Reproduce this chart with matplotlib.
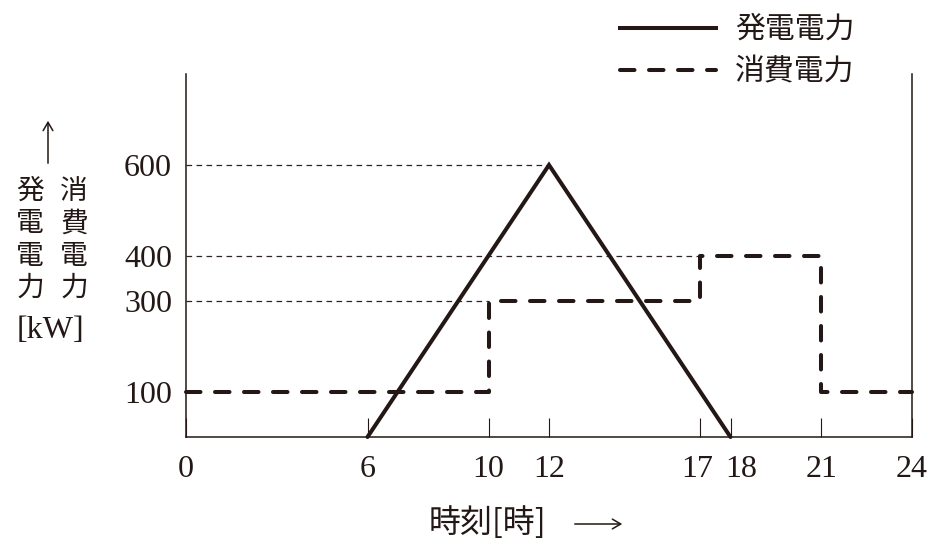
import matplotlib
matplotlib.use("Agg")
import matplotlib.pyplot as plt
import matplotlib.transforms as mtransforms
from matplotlib.lines import Line2D

# ---- data ----
gen_hours = [6, 12, 18]
gen_kw = [0, 600, 0]
use_hours = [0, 10, 10, 17, 17, 21, 21, 24]
use_kw = [100, 100, 300, 300, 400, 400, 100, 100]
x_ticks = [0, 6, 10, 12, 17, 18, 21, 24]
y_ticks = [100, 300, 400, 600]
ref_lines = [(600, 12), (400, 17), (300, 10)]  # (level, x end)

legend_labels = ["発電電力", "消費電力"]
ylabel_col1 = "発電電力"
ylabel_col2 = "消費電力"
ylabel_unit = "[kW]"
xlabel_text = "時刻[時]"

INK = "#231815"
JP = ["Noto Sans CJK JP", "DejaVu Sans"]
NUM = ["Liberation Serif", "DejaVu Serif"]

W, H = 939, 555
fig = plt.figure(figsize=(W / 100, H / 100), dpi=100)
ax = fig.add_axes([186 / W, 118 / H, 726 / W, 362.7 / H])
ax.set_xlim(0, 24)
ax.set_ylim(0, 800)

ax.spines["top"].set_visible(False)
for s in ["left", "right", "bottom"]:
    ax.spines[s].set_color(INK)
    ax.spines[s].set_linewidth(1.1)

# reference lines
for lvl, xe in ref_lines:
    ax.plot([0, xe], [lvl, lvl], color="#2e2522", lw=0.9, ls=(0, (4.5, 3.5)), zorder=1)

LW = 2.9
# generation
ax.plot(gen_hours, gen_kw, color=INK, lw=LW, solid_capstyle="round",
        solid_joinstyle="miter", zorder=3, clip_on=False)
# consumption
lc, = ax.plot(use_hours, use_kw, color=INK, lw=LW, zorder=3, clip_on=False)
lc.set_dash_capstyle("round")
lc.set_dashes([3.6, 3.6])

# ticks
ax.set_xticks(x_ticks)
ax.set_xticklabels([str(t) for t in x_ticks], color=INK, fontfamily=NUM, fontsize=23)
ax.tick_params(axis="x", direction="in", length=14, width=0.8, color=INK, pad=13)
nudge = {17: -3, 18: 11}
for t, v in zip(ax.get_xticklabels(), x_ticks):
    if v in nudge:
        t.set_transform(t.get_transform() + mtransforms.ScaledTranslation(
            nudge[v] / 100, 0, fig.dpi_scale_trans))
ax.set_yticks(y_ticks)
ax.set_yticklabels([str(t) for t in y_ticks], color=INK, fontfamily=NUM, fontsize=23)
ax.tick_params(axis="y", length=0, pad=10)

# legend
h2 = Line2D([], [], color=INK, lw=LW)
h2.set_dashes([3.6, 3.6]); h2.set_dash_capstyle("round")
handles = [Line2D([], [], color=INK, lw=LW), h2]
leg = fig.legend(handles, legend_labels, loc="upper left",
                 bbox_to_anchor=(620 / W, 1 - 14 / H), frameon=False,
                 prop={"family": JP, "size": 21.5}, handlelength=3.2, handletextpad=0.65,
                 labelspacing=0.4, borderpad=0, borderaxespad=0)
for t in leg.get_texts():
    t.set_color(INK)

# y label (vertical columns)
fig.text(30 / W, 1 - 176 / H, "\n".join(ylabel_col1), family=JP, fontsize=20, color=INK,
         ha="center", va="top", linespacing=1.1)
fig.text(74 / W, 1 - 176 / H, "\n".join(ylabel_col2), family=JP, fontsize=20, color=INK,
         ha="center", va="top", linespacing=1.1)
fig.text(50 / W, 1 - 331 / H, ylabel_unit, family=NUM, fontsize=23, color=INK,
         ha="center", va="center")
fig.add_artist(matplotlib.patches.FancyArrowPatch(
    (48 / W, 1 - 166 / H), (48 / W, 1 - 118 / H), transform=fig.transFigure,
    arrowstyle="->,head_length=6,head_width=3.5", color=INK, lw=1.1, mutation_scale=1))

# x label
fig.text(487 / W, 1 - 523 / H, xlabel_text, family=JP, fontsize=23, color=INK,
         ha="center", va="center")
fig.add_artist(matplotlib.patches.FancyArrowPatch(
    (572 / W, 1 - 524 / H), (625 / W, 1 - 524 / H), transform=fig.transFigure,
    arrowstyle="->,head_length=6,head_width=3.5", color=INK, lw=1.1, mutation_scale=1))

fig.savefig("out.png", dpi=100)
